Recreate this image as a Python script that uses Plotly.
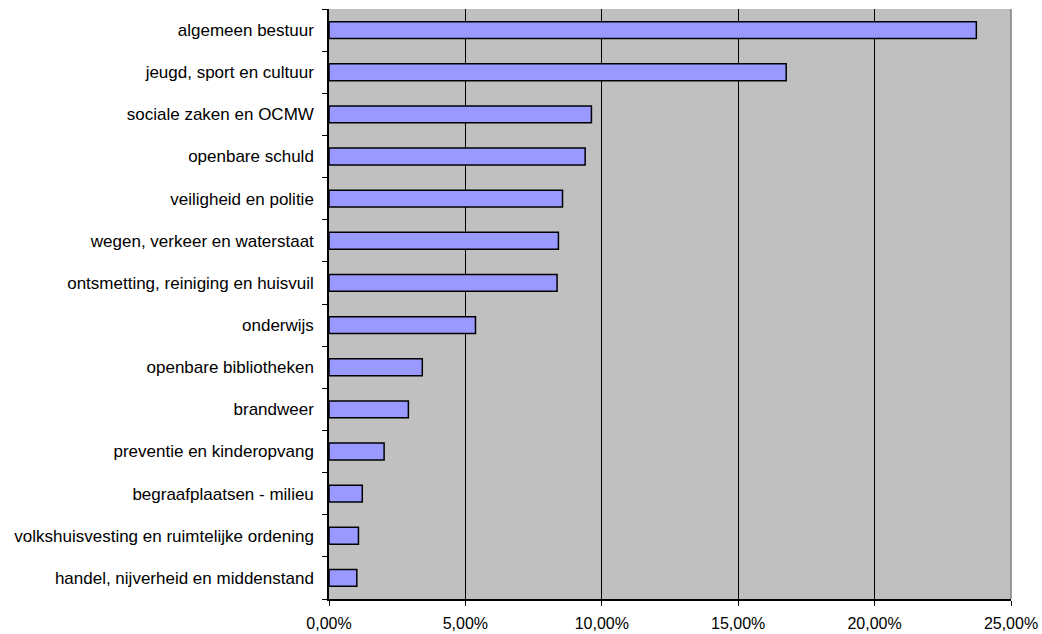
import plotly.graph_objects as go

categories = [
    "algemeen bestuur",
    "jeugd, sport en cultuur",
    "sociale zaken en OCMW",
    "openbare schuld",
    "veiligheid en politie",
    "wegen, verkeer en waterstaat",
    "ontsmetting, reiniging en huisvuil",
    "onderwijs",
    "openbare bibliotheken",
    "brandweer",
    "preventie en kinderopvang",
    "begraafplaatsen - milieu",
    "volkshuisvesting en ruimtelijke ordening",
    "handel, nijverheid en middenstand",
]
values = [0.2373, 0.1676, 0.0962, 0.0939, 0.0856, 0.0841, 0.0836,
          0.0537, 0.0342, 0.0291, 0.0202, 0.0122, 0.0108, 0.0102]
tick_vals = [0, 0.05, 0.10, 0.15, 0.20, 0.25]
tick_text = ["0,00%", "5,00%", "10,00%", "15,00%", "20,00%", "25,00%"]

fig = go.Figure(go.Bar(
    x=values, y=categories, orientation="h",
    marker=dict(color="#9999FF", line=dict(color="#000000", width=1.5)),
    width=0.4,
))

fig.update_layout(
    width=1042, height=634,
    margin=dict(l=329, r=31, t=9, b=35),
    paper_bgcolor="white", plot_bgcolor="#C0C0C0",
    font=dict(family="Liberation Sans, Arial, sans-serif", size=17, color="black"),
    showlegend=False,
    bargap=0.6,
)
fig.update_xaxes(
    range=[0, 0.25], tickvals=tick_vals, ticktext=tick_text,
    tickfont=dict(size=16),
    showgrid=True, gridcolor="black", gridwidth=1,
    showline=True, linecolor="black", linewidth=1.5,
    ticks="outside", ticklen=5, tickcolor="black",
    zeroline=False, mirror=False, ticklabelstandoff=4, automargin=False,
)
fig.update_yaxes(
    categoryorder="array", categoryarray=categories[::-1],
    autorange=False, range=[-0.5, len(categories) - 0.5],
    showgrid=False, showline=True, linecolor="black", linewidth=1.5,
    ticks="outside", ticklen=5, tickcolor="black", tickson="boundaries",
    ticklabelstandoff=10, automargin=False,
)
fig.add_shape(type="line", xref="paper", yref="paper", x0=1, x1=1, y0=0, y1=1,
              line=dict(color="#808080", width=1.5))

fig.write_html(
    "out.html",
    config={"displayModeBar": False},
    post_script="document.body.style.margin='0px';document.body.style.overflow='hidden';",
)
